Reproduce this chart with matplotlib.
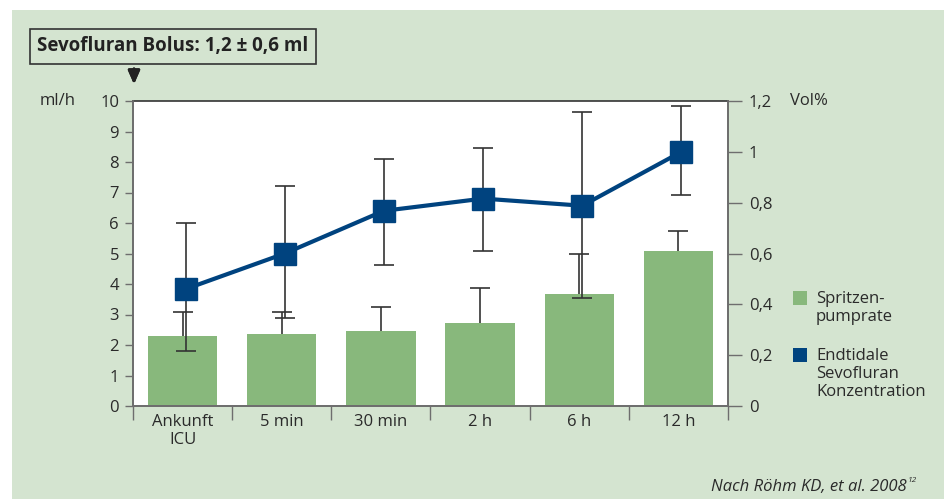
import numpy as np
import matplotlib.pyplot as plt
from matplotlib.patches import Rectangle

plt.rcParams['font.family'] = ['Open Sans', 'DejaVu Sans']

categories = ["Ankunft\nICU", "5 min", "30 min", "2 h", "6 h", "12 h"]

# Spritzenpumprate (ml/h), left axis
pump_rate = [2.30, 2.36, 2.46, 2.72, 3.67, 5.08]
pump_upper = [3.09, 3.09, 3.25, 3.88, 4.97, 5.74]

# Endtidale Sevofluran-Konzentration (Vol%), right axis
sevo_conc = [0.46, 0.60, 0.768, 0.816, 0.788, 1.00]
sevo_upper = [0.72, 0.866, 0.973, 1.016, 1.157, 1.18]
sevo_lower = [0.218, 0.347, 0.553, 0.611, 0.426, 0.832]

left_ticks = list(range(0, 11))
right_ticks = [0, 0.2, 0.4, 0.6, 0.8, 1.0, 1.2]
right_ticklabels = ["0", "0,2", "0,4", "0,6", "0,8", "1", "1,2"]

green_bg = "#d4e4d0"
bar_green = "#88b87c"
navy = "#00437f"
grey = "#6e6e6e"
txt = "#2a2a2a"
fs = 12

W, H = 945, 499
fig = plt.figure(figsize=(W / 100, H / 100), dpi=100)
fig.patch.set_facecolor("white")
fig.patches.append(Rectangle((12 / W, 0), 1 - 12 / W, 1 - 10 / H,
                             transform=fig.transFigure, facecolor=green_bg,
                             edgecolor="none", zorder=-10))

ax = fig.add_axes([133 / W, (H - 406) / H, 595 / W, 305 / H])
ax.set_facecolor("white")
x = np.arange(len(categories))

ax.bar(x, pump_rate, width=0.7, color=bar_green, zorder=2)
eb = ax.errorbar(x, pump_rate,
                 yerr=[np.zeros(len(x)), np.array(pump_upper) - np.array(pump_rate)],
                 fmt="none", ecolor="#333333", elinewidth=1.2, capsize=7,
                 capthick=1.2, zorder=3)
# only the upper whisker has a cap
eb[1][0].set_visible(False)

ax.set_xlim(-0.5, len(x) - 0.5)
ax.set_ylim(0, 10)
ax.set_yticks(left_ticks)
ax.set_xticks(np.arange(-0.5, len(x)), minor=False)
ax.set_xticklabels([])
ax.set_xticks(x, minor=True)
ax.set_xticklabels(categories, minor=True, fontsize=fs, color=txt,
                   linespacing=1.15)
ax.tick_params(axis="x", which="major", length=10, width=1, color=grey)
ax.tick_params(axis="x", which="minor", length=0, pad=6)
ax.tick_params(axis="y", length=6, width=1, color=grey, labelsize=fs,
               labelcolor=txt, pad=4)
for s in ["left", "bottom", "right"]:
    ax.spines[s].set_color(grey)
    ax.spines[s].set_linewidth(1.3)
ax.spines["top"].set_color("#333333")
ax.spines["top"].set_linewidth(1.2)

ax2 = ax.twinx()
ax2.set_ylim(0, 1.2)
xs = x + 0.03
ax2.errorbar(xs, sevo_conc,
             yerr=[np.array(sevo_conc) - np.array(sevo_lower),
                   np.array(sevo_upper) - np.array(sevo_conc)],
             fmt="none", ecolor="#333333", elinewidth=1.2, capsize=7,
             capthick=1.2, zorder=3)
ax2.plot(xs, sevo_conc, color=navy, lw=3, marker="s", ms=16,
         markerfacecolor=navy, markeredgecolor=navy, zorder=4)
ax2.set_yticks(right_ticks)
ax2.set_yticklabels(right_ticklabels)
ax2.tick_params(axis="y", length=10, width=1, color=grey, labelsize=fs,
                labelcolor=txt, pad=5)
for s in ["left", "bottom", "right"]:
    ax2.spines[s].set_color(grey)
    ax2.spines[s].set_linewidth(1.3)
ax2.spines["top"].set_visible(False)

fig.text(40 / W, 1 - 101 / H, "ml/h", fontsize=fs, color=txt,
         ha="left", va="center")
fig.text(790 / W, 1 - 101 / H, "Vol%", fontsize=fs, color=txt,
         ha="left", va="center")

# bolus box with arrow
fig.text(37 / W, 1 - 46 / H, "Sevofluran Bolus: 1,2 ± 0,6 ml", fontsize=13.5,
         fontweight="bold", color="#222222", ha="left", va="center",
         bbox=dict(boxstyle="square,pad=0.4", facecolor=green_bg,
                   edgecolor="#333333", linewidth=1.2))
fig.add_artist(plt.annotate(
    "", xy=(134 / W, 1 - 87 / H), xytext=(134 / W, 1 - 66 / H),
    xycoords="figure fraction", textcoords="figure fraction",
    arrowprops=dict(arrowstyle="-|>,head_width=0.35,head_length=0.8",
                    color="#222222", lw=2), annotation_clip=False))

# legend
fig.patches.append(Rectangle((793 / W, 1 - 305 / H), 14 / W, 14 / H,
                             transform=fig.transFigure, facecolor=bar_green,
                             edgecolor="none"))
fig.text(816 / W, 1 - 291 / H, "Spritzen-\npumprate", fontsize=fs,
         color=txt, ha="left", va="top", linespacing=1.15)
fig.patches.append(Rectangle((793 / W, 1 - 362 / H), 14 / W, 14 / H,
                             transform=fig.transFigure, facecolor=navy,
                             edgecolor="none"))
fig.text(816 / W, 1 - 348 / H, "Endtidale\nSevofluran\nKonzentration",
         fontsize=fs, color=txt, ha="left", va="top", linespacing=1.15)

fig.text(907 / W, 1 - 487 / H, "Nach Röhm KD, et al. 2008",
         fontsize=12, style="italic", color=txt, ha="right", va="center")
fig.text(908 / W, 1 - 481 / H, "12", fontsize=6, style="italic",
         color=txt, ha="left", va="center")

fig.savefig("out.png", dpi=100)
